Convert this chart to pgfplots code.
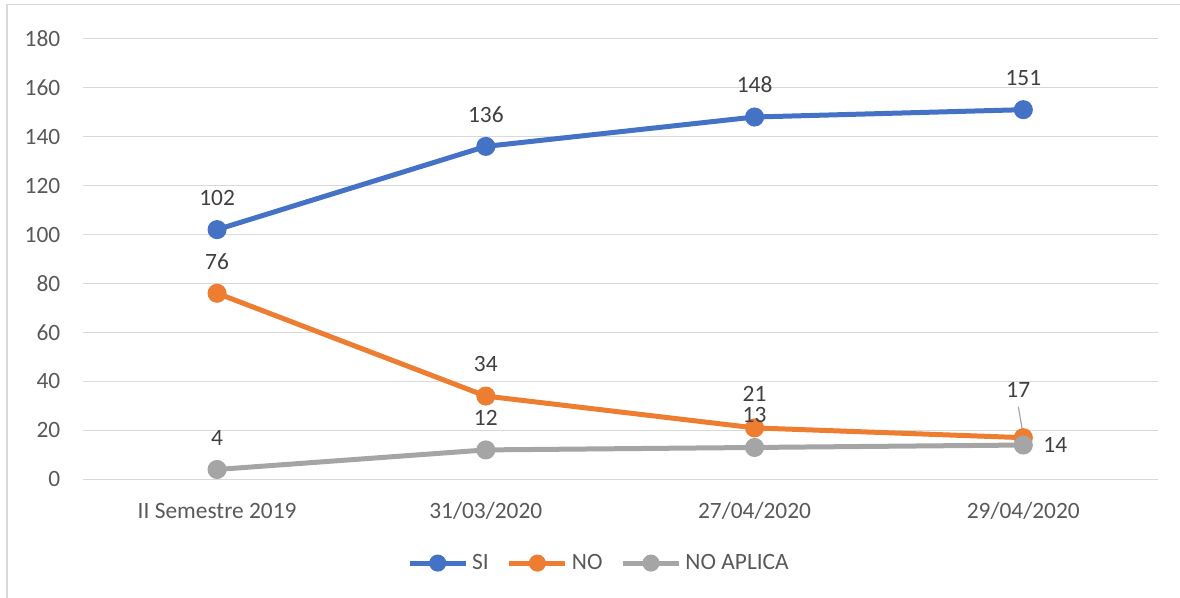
\documentclass[border=0pt]{standalone}
\usepackage{pgfplots}
\pgfplotsset{compat=1.18}
\usepackage{pgfplotstable}
\usepackage{fontspec}
\setmainfont{Carlito}
\definecolor{siblue}{HTML}{4472C4}
\definecolor{noorange}{HTML}{ED7D31}
\definecolor{nagray}{HTML}{A5A5A5}
\definecolor{gridc}{HTML}{D9D9D9}
\definecolor{tickc}{HTML}{595959}
\definecolor{lblc}{HTML}{404040}
\pgfplotstableread{
x y dx dy
0 102 0 16
1 136 0 16
2 148 0 16
3 151 0 16
}\tsi
\pgfplotstableread{
x y dx dy
0 76 0 16
1 34 0 16
2 21 0 17
3 17 -2.5 24
}\tno
\pgfplotstableread{
x y dx dy
0 4 0 16
1 12 0 16
2 13 0 16
3 14 16 0
}\tna
\begin{document}
\begin{tikzpicture}
\path[use as bounding box] (0pt,0pt) rectangle (590pt,299pt);
\draw[gridc, line width=0.8pt] (3.35pt,-2pt) -- (3.35pt,296.65pt) -- (592pt,296.65pt);
\begin{axis}[
  at={(41.35pt,59.35pt)}, anchor=south west,
  scale only axis, width=537.5pt, height=220.3pt,
  xmin=-0.5, xmax=3.5, ymin=0, ymax=180,
  xtick={0,1,2,3},
  xticklabels={II Semestre 2019,31/03/2020,27/04/2020,29/04/2020},
  ytick={0,20,...,180},
  axis line style={draw=none},
  major tick length=0pt,
  ymajorgrids, major grid style={gridc, line width=0.65pt},
  tick label style={font=\fontsize{11.7}{14}\selectfont, text=tickc},
  /pgf/number format/assume math mode=true,
  yticklabel style={anchor=east, inner sep=0pt, xshift=-11pt},
  xticklabel style={anchor=center, inner sep=0pt, yshift=-16pt},
  clip=false,
  legend columns=3,
  legend style={at={(0.4812,0)}, anchor=center, yshift=-41.9pt, draw=none, fill=none,
    font=\fontsize{11.7}{14}\selectfont, text=tickc,
    /tikz/every even column/.append style={column sep=7pt},
    inner sep=0pt},
  legend cell align=left,
  legend image code/.code={\draw[mark repeat=2, mark phase=2, mark size=3pt] plot coordinates {(0pt,0pt) (14pt,0pt) (28pt,0pt)};},
  every axis plot/.append style={line width=2.5pt, mark=*, mark size=3.5pt},
  nodes near coords,
  visualization depends on={\thisrow{dx} \as \dx},
  visualization depends on={\thisrow{dy} \as \dy},
  nodes near coords style={anchor=center, inner sep=0pt, xshift=\dx pt, yshift=\dy pt,
    font=\fontsize{11.7}{14}\selectfont, text=lblc},
]
\addplot[siblue, mark options={fill=siblue, draw=siblue}] table[x=x,y=y] {\tsi};
\addlegendentry{SI}
\addplot[noorange, mark options={fill=noorange, draw=noorange}] table[x=x,y=y] {\tno};
\addlegendentry{NO}
\addplot[nagray, mark options={fill=nagray, draw=nagray}] table[x=x,y=y] {\tna};
\addlegendentry{NO APLICA}
\draw[nagray, line width=0.6pt] ([xshift=-2.5pt,yshift=15.5pt]axis cs:3,17) -- ([yshift=1pt]axis cs:3,17);
\end{axis}
\end{tikzpicture}
\end{document}
